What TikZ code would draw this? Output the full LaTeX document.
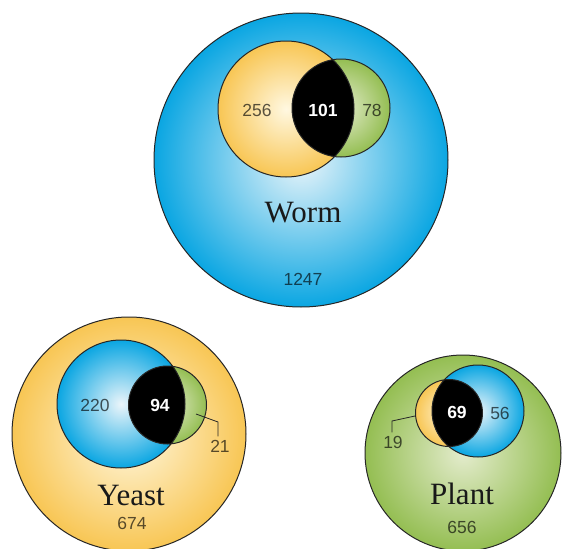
\documentclass[tikz,border=0pt]{standalone}
\usepackage{fontspec}
\setmainfont{Liberation Serif}
\setsansfont{Liberation Sans}
\usepackage{xcolor}
\definecolor{setblue}{RGB}{10,166,226}
\definecolor{setlblue}{RGB}{235,245,250}
\definecolor{setyellow}{RGB}{248,198,84}
\definecolor{setlyellow}{RGB}{255,248,225}
\definecolor{setgreen}{RGB}{148,190,82}
\definecolor{setlgreen}{RGB}{228,236,205}

\begin{document}
\begin{tikzpicture}[x=1pt, y=-1pt,
  ring/.style={draw=black!85, line width=1pt},
  lead/.style={draw=black!85, line width=0.8pt},
  num/.style={font=\sffamily\fontsize{17.5}{17.5}\selectfont, text=black, text opacity=0.65},
  core/.style={font=\sffamily\bfseries\fontsize{17.5}{17.5}\selectfont, text=white},
  kind/.style={font=\fontsize{31}{31}\selectfont, text=black!90}]
\useasboundingbox (0,0) rectangle (566,549);

% worm
\shade[inner color=setlblue, outer color=setblue] (301,160) circle[radius=147];
\draw[ring] (301,160) circle[radius=147];
\shade[inner color=setlyellow, outer color=setyellow] (286,109) circle[radius=68];
\shade[inner color=setlgreen, outer color=setgreen] (341,108) circle[radius=49];
\begin{scope}
  \clip (286,109) circle[radius=68];
  \fill[black] (341,108) circle[radius=49];
\end{scope}
\draw[ring] (286,109) circle[radius=68] (341,108) circle[radius=49];
\node[num] (w256) at (257,110) {256};
\node[core] (w101) at (323,110) {101};
\node[num] (w78) at (372,110) {78};
\node[kind] (worm) at (303,213) {Worm};
\node[num] (w1247) at (303,279) {1247};

% yeast
\shade[inner color=setlyellow, outer color=setyellow] (129,434) circle[radius=117];
\draw[ring] (129,434) circle[radius=117];
\shade[inner color=setlblue, outer color=setblue] (121,404) circle[radius=64];
\shade[inner color=setlgreen, outer color=setgreen] (167.5,405) circle[radius=39];
\begin{scope}
  \clip (121,404) circle[radius=64];
  \fill[black] (167.5,405) circle[radius=39];
\end{scope}
\draw[ring] (121,404) circle[radius=64] (167.5,405) circle[radius=39];
\node[num] (y220) at (95,405) {220};
\node[core] (y94) at (160,405) {94};
\node[num] (y21) at (220,446) {21};
\coordinate (y21in) at (196,414);
\coordinate (y21k) at (218,422);
\draw[lead] (y21in) -- (y21k) -- (y21k |- y21.north);
\node[kind] (yeast) at (131,495) {Yeast};
\node[num] (y674) at (132,523) {674};

% plant
\shade[inner color=setlgreen, outer color=setgreen] (463,453) circle[radius=98];
\draw[ring] (463,453) circle[radius=98];
\shade[inner color=setlyellow, outer color=setyellow] (449,413) circle[radius=33.5];
\shade[inner color=setlblue, outer color=setblue] (478,411) circle[radius=46];
\begin{scope}
  \clip (449,413) circle[radius=33.5];
  \fill[black] (478,411) circle[radius=46];
\end{scope}
\draw[ring] (449,413) circle[radius=33.5] (478,411) circle[radius=46];
\node[core] (p69) at (457,412) {69};
\node[num] (p56) at (500,413) {56};
\node[num] (p19) at (393,442) {19};
\coordinate (p19in) at (415,416);
\coordinate (p19k) at (392,421);
\draw[lead] (p19in) -- (p19k) -- (p19k |- p19.north);
\node[kind] (plant) at (462,494) {Plant};
\node[num] (p656) at (462,527) {656};
\end{tikzpicture}
\end{document}
